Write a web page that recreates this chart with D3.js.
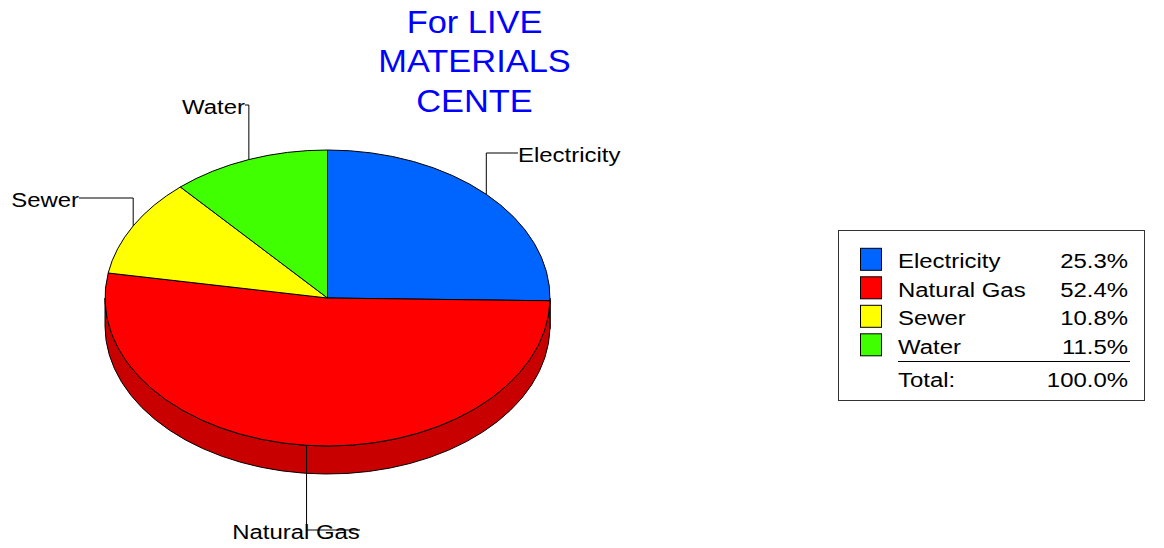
<!DOCTYPE html>
<html>
<head>
<meta charset="utf-8">
<script src="https://cdn.jsdelivr.net/npm/d3@7"></script>
<style>
  body { margin: 0; background: #fff; }
  svg { display: block; }
  text { font-family: "Liberation Sans", Arial, sans-serif; }
</style>
</head>
<body>
<svg id="chart" width="1164" height="548"></svg>
<script>
// Utility cost shares
const categories = ["Electricity", "Natural Gas", "Sewer", "Water"];
const shares = [25.3, 52.4, 10.8, 11.5];
const sliceColors = ["#0064ff", "#ff0000", "#ffff00", "#40ff00"];
const sideColors = ["#0050c8", "#c80000", "#c8c800", "#30c800"];
const titleLines = ["For LIVE", "MATERIALS", "CENTE"];
const totalLabel = "Total:";

const svg = d3.select("#chart");
const fmt = d => d3.format(".1f")(d) + "%";

// Tilted pie geometry
const cx = 327.5, cy = 298, rx = 222.5, ry = 148, depth = 28;
const pt = (a, dy = 0) => [cx + rx * Math.sin(a), cy - ry * Math.cos(a) + dy];

const arcs = d3.pie().sort(null).value(d => d)(shares)
  .map((a, i) => ({ ...a, name: categories[i], i }));

// Front wall (only the lower half of the ellipse is visible)
const sideG = svg.append("g");
arcs.forEach(a => {
  const s = Math.max(a.startAngle, Math.PI / 2);
  const e = Math.min(a.endAngle, 3 * Math.PI / 2);
  if (e <= s) return;
  const p0 = pt(s), p1 = pt(e), q1 = pt(e, depth), q0 = pt(s, depth);
  const d = `M${p0}A${rx},${ry} 0 0 1 ${p1}L${q1}A${rx},${ry} 0 0 0 ${q0}Z`;
  sideG.append("path").attr("d", d)
    .attr("fill", sideColors[a.i]).attr("stroke", "#000").attr("stroke-width", 1);
});

// Top face slices
const topG = svg.append("g");
topG.selectAll("path").data(arcs).join("path")
  .attr("d", a => {
    const p0 = pt(a.startAngle), p1 = pt(a.endAngle);
    const large = a.endAngle - a.startAngle > Math.PI ? 1 : 0;
    return `M${cx},${cy}L${p0}A${rx},${ry} 0 ${large} 1 ${p1}Z`;
  })
  .attr("fill", a => sliceColors[a.i])
  .attr("stroke", "#000").attr("stroke-width", 1).attr("stroke-linejoin", "round");

// Callout labels with elbow leaders
const labelLayout = {
  "Electricity": { y: 153, x: 518, anchor: "start" },
  "Natural Gas": { y: 530, x: 360, anchor: "middle", tx: 296 },
  "Sewer":       { y: 198, x: 79,  anchor: "end" },
  "Water":       { y: 105, x: 245, anchor: "end" }
};
const sx = 1.14;
const labelG = svg.append("g");
arcs.forEach(a => {
  const L = labelLayout[a.name];
  const mid = (a.startAngle + a.endAngle) / 2;
  const [mx, my] = pt(mid);
  labelG.append("path")
    .attr("d", `M${mx},${my}V${L.y}H${L.x}`)
    .attr("fill", "none").attr("stroke", "#000").attr("stroke-width", 1);
  const tx = L.tx !== undefined ? L.tx : L.x;
  labelG.append("text")
    .attr("transform", `translate(${tx},${L.y + 8.5}) scale(${sx},1)`)
    .attr("text-anchor", L.anchor)
    .attr("font-size", 21).attr("fill", "#000")
    .text(a.name);
});

// Title
svg.append("g").selectAll("text").data(titleLines).join("text")
  .attr("transform", (d, i) => `translate(474.5,${33 + i * 39.3}) scale(1.11,1)`)
  .attr("text-anchor", "middle")
  .attr("font-size", 31).attr("fill", "#0000ff")
  .text(d => d);

// Legend
const lg = svg.append("g");
lg.append("rect").attr("x", 838.5).attr("y", 230.5).attr("width", 306).attr("height", 170)
  .attr("fill", "#fff").attr("stroke", "#333").attr("stroke-width", 1);
const rowH = 28.5, row0 = 268.3;
const rows = lg.selectAll("g.row").data(arcs).join("g").attr("class", "row");
rows.append("rect")
  .attr("x", 860.5).attr("y", (d, i) => row0 - 20 + i * rowH)
  .attr("width", 21).attr("height", 22)
  .attr("fill", d => sliceColors[d.i]).attr("stroke", "#000").attr("stroke-width", 1);
rows.append("text")
  .attr("transform", (d, i) => `translate(898,${row0 + i * rowH}) scale(${sx},1)`)
  .attr("font-size", 21).text(d => d.name);
rows.append("text")
  .attr("transform", (d, i) => `translate(1128,${row0 + i * rowH}) scale(${sx},1)`)
  .attr("text-anchor", "end").attr("font-size", 21).text(d => fmt(d.value));
lg.append("line").attr("x1", 898).attr("x2", 1130).attr("y1", 361.5).attr("y2", 361.5)
  .attr("stroke", "#000").attr("stroke-width", 1);
lg.append("text").attr("transform", `translate(898,386.7) scale(${sx},1)`)
  .attr("font-size", 21).text(totalLabel);
lg.append("text").attr("transform", `translate(1128,386.7) scale(${sx},1)`)
  .attr("text-anchor", "end").attr("font-size", 21).text(fmt(d3.sum(shares)));
</script>
</body>
</html>
